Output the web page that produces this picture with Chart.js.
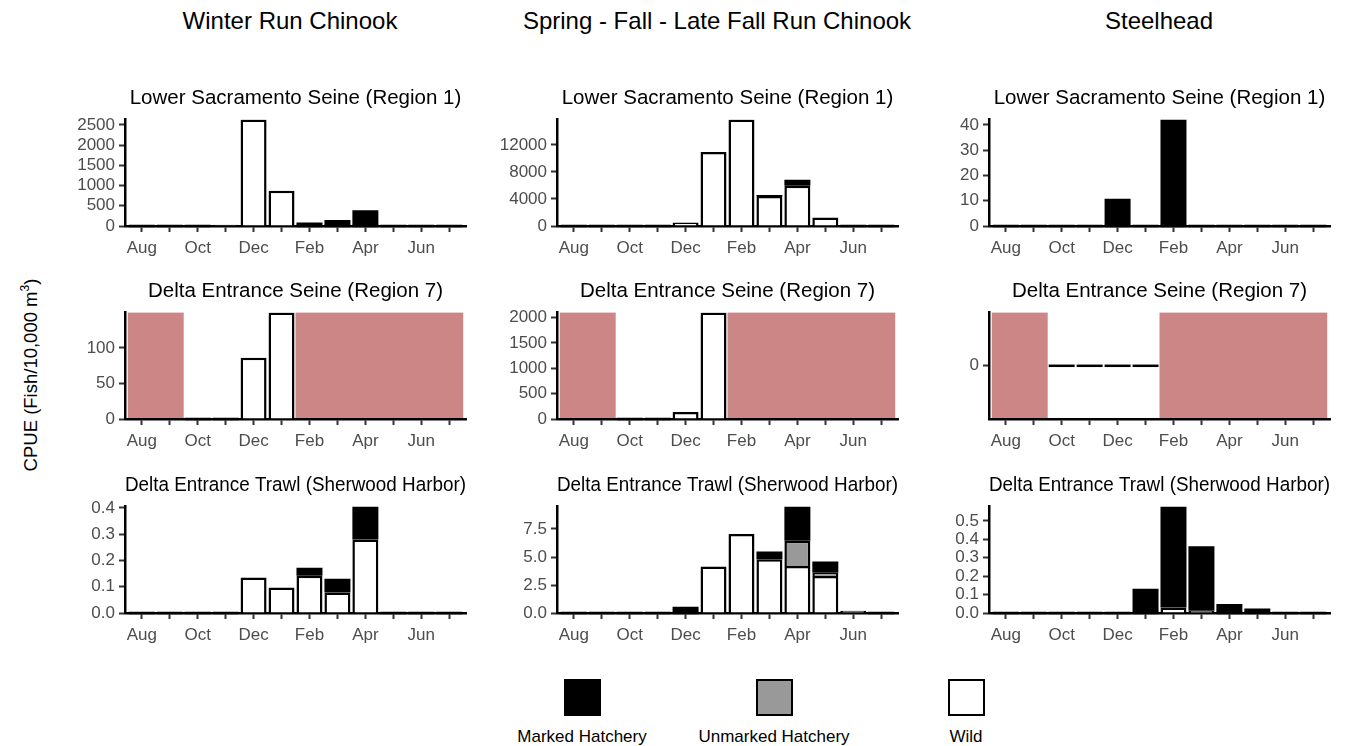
<!DOCTYPE html>
<html>
<head>
<meta charset="utf-8">
<title>CPUE by month</title>
<script src="https://cdn.jsdelivr.net/npm/chart.js@4.4.1/dist/chart.umd.min.js"></script>
<style>
  body { margin: 0; background: #fff; font-family: 'Liberation Sans', Arial, sans-serif; }
  #fig { position: relative; width: 1356px; height: 746px; overflow: hidden; }
  #fig canvas { position: absolute; }
  .run { position: absolute; top: 7px; font-size: 24px; line-height: 28px; white-space: nowrap; transform: translateX(-50%); }
  .ytitle { position: absolute; left: 28px; top: 375px; font-size: 18.5px; line-height: 22px; white-space: nowrap;
            transform: translate(-50%, -50%) rotate(-90deg); }
  .ytitle sup { font-size: 12px; }
  .key { position: absolute; top: 679px; width: 37px; height: 37px; box-sizing: border-box; border: 2.5px solid #000; }
  .keylab { position: absolute; top: 727px; font-size: 17px; line-height: 20px; white-space: nowrap; transform: translateX(-50%); }
</style>
</head>
<body>
<div id="fig">
  <div class="ytitle">CPUE (Fish/10,000 m<sup>3</sup>)</div>
</div>
<script>
// months run Aug..Jul, null = site not sampled that month
const months = ['Aug', 'Sep', 'Oct', 'Nov', 'Dec', 'Jan', 'Feb', 'Mar', 'Apr', 'May', 'Jun', 'Jul'];
const runs = ['Winter Run Chinook', 'Spring - Fall - Late Fall Run Chinook', 'Steelhead'];
const sites = ['Lower Sacramento Seine (Region 1)', 'Delta Entrance Seine (Region 7)', 'Delta Entrance Trawl (Sherwood Harbor)'];
const groups = ['Marked Hatchery', 'Unmarked Hatchery', 'Wild'];

// Winter run
const winterSacSeineWild       = [0, 0, 0, 30, 2630, 870, 0, 0, 0, 0, 0, 0];
const winterSacSeineUnmarked   = [0, 0, 0, 0, 0, 0, 0, 0, 0, 0, 0, 0];
const winterSacSeineMarked     = [0, 0, 0, 0, 0, 0, 85, 150, 390, 0, 0, 0];
const winterDeltaSeineWild     = [null, null, 0, 0, 86, 149.5, null, null, null, null, null, null];
const winterDeltaSeineUnmarked = [null, null, 0, 0, 0, 0, null, null, null, null, null, null];
const winterDeltaSeineMarked   = [null, null, 0, 0, 0, 0, null, null, null, null, null, null];
const winterTrawlWild          = [0, 0, 0, 0, 0.135, 0.097, 0.142, 0.078, 0.28, 0, 0, 0];
const winterTrawlUnmarked      = [0, 0, 0, 0, 0, 0, 0, 0, 0, 0, 0, 0];
const winterTrawlMarked        = [0, 0, 0, 0, 0, 0, 0.03, 0.052, 0.125, 0, 0, 0];

// Spring / fall / late fall run
const fallSacSeineWild         = [0, 0, 0, 0, 500, 10950, 15750, 4450, 5950, 1250, 0, 0];
const fallSacSeineUnmarked     = [0, 0, 0, 0, 0, 0, 0, 0, 0, 0, 0, 0];
const fallSacSeineMarked       = [0, 0, 0, 0, 0, 0, 0, 150, 900, 0, 0, 0];
const fallDeltaSeineWild       = [null, null, 0, 0, 138, 2100, null, null, null, null, null, null];
const fallDeltaSeineUnmarked   = [null, null, 0, 0, 0, 0, null, null, null, null, null, null];
const fallDeltaSeineMarked     = [null, null, 0, 0, 0, 0, null, null, null, null, null, null];
const fallTrawlWild            = [0, 0, 0, 0, 0, 4.15, 7.05, 4.8, 4.2, 3.3, 0.2, 0];
const fallTrawlUnmarked        = [0, 0, 0, 0, 0, 0, 0, 0, 2.25, 0.3, 0, 0];
const fallTrawlMarked          = [0, 0, 0, 0, 0.55, 0, 0, 0.7, 3.05, 1.0, 0, 0];

// Steelhead
const steelSacSeineWild        = [0, 0, 0, 0, 0, 0, 0, 0, 0, 0, 0, 0];
const steelSacSeineUnmarked    = [0, 0, 0, 0, 0, 0, 0, 0, 0, 0, 0, 0];
const steelSacSeineMarked      = [0, 0, 0, 0, 10.8, 0, 42.1, 0, 0, 0, 0, 0];
const steelDeltaSeineWild      = [null, null, 0, 0, 0, 0, null, null, null, null, null, null];
const steelDeltaSeineUnmarked  = [null, null, 0, 0, 0, 0, null, null, null, null, null, null];
const steelDeltaSeineMarked    = [null, null, 0, 0, 0, 0, null, null, null, null, null, null];
const steelTrawlWild           = [0, 0, 0, 0, 0, 0, 0.03, 0.012, 0, 0, 0, 0];
const steelTrawlUnmarked       = [0, 0, 0, 0, 0, 0, 0, 0, 0, 0, 0, 0];
const steelTrawlMarked         = [0, 0, 0, 0, 0, 0.132, 0.548, 0.35, 0.049, 0.025, 0, 0];

// y tick step for each panel, by row then column (null = only a 0 tick)
const tickSteps = [[500, 4000, 10], [50, 500, null], [0.1, 2.5, 0.1]];
const tickDecimals = [0, 0, 1];

// seine at the delta entrance is not run in these months (month index bins)
const deltaSeineOffSeason = [[-0.5, 1.5], [5.5, 11.5]];

const panels = [
  [[winterSacSeineWild, winterSacSeineUnmarked, winterSacSeineMarked],
   [fallSacSeineWild, fallSacSeineUnmarked, fallSacSeineMarked],
   [steelSacSeineWild, steelSacSeineUnmarked, steelSacSeineMarked]],
  [[winterDeltaSeineWild, winterDeltaSeineUnmarked, winterDeltaSeineMarked],
   [fallDeltaSeineWild, fallDeltaSeineUnmarked, fallDeltaSeineMarked],
   [steelDeltaSeineWild, steelDeltaSeineUnmarked, steelDeltaSeineMarked]],
  [[winterTrawlWild, winterTrawlUnmarked, winterTrawlMarked],
   [fallTrawlWild, fallTrawlUnmarked, fallTrawlMarked],
   [steelTrawlWild, steelTrawlUnmarked, steelTrawlMarked]]
];

const fills = { 'Wild': '#ffffff', 'Unmarked Hatchery': '#999999', 'Marked Hatchery': '#000000' };
// black bars need no outline; an inner border only leaves a seam
const outlines = { 'Wild': 2.5, 'Unmarked Hatchery': 2.5, 'Marked Hatchery': 0 };
const shadeColor = '#cd8686';
const tickGrey = '#4d4d4d';

// page layout
const colLeft = [125, 557, 989];
const rowTop = [119, 312, 506];
const plotW = 341, plotH = 107;
const rightPad = [20, 13, 11];
const axisW = 70, axisH = 34, titleH = 33;

Chart.defaults.font.family = "'Liberation Sans', Arial, sans-serif";

const fig = document.getElementById('fig');

// pink band over months the site was not sampled
function offSeasonShade(ranges) {
  return {
    id: 'offSeason',
    beforeDraw(chart) {
      if (!ranges) return;
      const { ctx, chartArea: a, scales: { x } } = chart;
      ctx.save();
      ctx.fillStyle = shadeColor;
      ranges.forEach(([from, to]) => {
        const x1 = x.getPixelForValue(from), x2 = x.getPixelForValue(to);
        ctx.fillRect(x1, a.top, x2 - x1, a.bottom - a.top);
      });
      ctx.restore();
    }
  };
}

// sampled months with no catch still get a flat outline, like ggplot does
const zeroOutline = {
  id: 'zeroOutline',
  afterDatasetsDraw(chart) {
    const meta = chart.getDatasetMeta(0);
    const pts = chart.data.datasets[0].data;
    const ctx = chart.ctx;
    ctx.save();
    ctx.strokeStyle = '#000';
    ctx.lineWidth = 2.5;
    meta.data.forEach((bar, i) => {
      if (pts[i].y !== 0) return;
      ctx.beginPath();
      ctx.moveTo(bar.x - bar.width / 2, bar.y);
      ctx.lineTo(bar.x + bar.width / 2, bar.y);
      ctx.stroke();
    });
    ctx.restore();
  }
};

function yTickValues(step, top) {
  if (!step) return [0];
  const out = [];
  for (let k = 0; k * step <= top + 1e-9; k++) out.push(+(k * step).toFixed(6));
  return out;
}

function makePanel(r, c) {
  const [wild, unmarked, marked] = panels[r][c];
  const totals = months.map((m, i) => (wild[i] || 0) + (unmarked[i] || 0) + (marked[i] || 0));
  const top = Math.max(...totals);
  const step = tickSteps[r][c];
  const decimals = tickDecimals[r];
  const yTicks = yTickValues(step, top);

  const canvas = document.createElement('canvas');
  canvas.width = axisW + plotW + rightPad[c];
  canvas.height = titleH + plotH + axisH;
  canvas.style.left = (colLeft[c] - axisW) + 'px';
  canvas.style.top = (rowTop[r] - titleH) + 'px';
  fig.appendChild(canvas);

  const series = [['Wild', wild], ['Unmarked Hatchery', unmarked], ['Marked Hatchery', marked]];

  new Chart(canvas, {
    type: 'bar',
    data: {
      datasets: series.map(([name, vals]) => ({
        label: name,
        data: vals.map((v, i) => ({ x: i, y: v })),
        backgroundColor: fills[name],
        borderColor: '#000',
        borderWidth: outlines[name],
        borderSkipped: 'start',
        barPercentage: 0.93,
        categoryPercentage: 1
      }))
    },
    options: {
      responsive: false,
      animation: false,
      events: [],
      layout: { padding: { left: 0, right: rightPad[c], top: 0, bottom: 0 } },
      plugins: {
        legend: { display: false },
        tooltip: { enabled: false },
        title: {
          display: true,
          text: sites[r],
          fullSize: false,
          color: '#000',
          font: { size: 20.5, weight: 'normal' },
          padding: { top: 0, bottom: 9 }
        }
      },
      scales: {
        x: {
          type: 'linear',
          stacked: true,
          offset: false,
          min: -0.6,
          max: 11.6,
          afterBuildTicks: s => { s.ticks = months.map((m, i) => ({ value: i })); },
          afterFit: s => { s.height = axisH; },
          ticks: {
            autoSkip: false,
            maxRotation: 0,
            padding: 6,
            color: tickGrey,
            font: { size: 17 },
            callback: v => (v % 2 === 0 ? months[v] : '')
          },
          grid: { drawOnChartArea: false, drawTicks: true, tickLength: 6, tickWidth: 2, tickColor: '#333', offset: false },
          border: { display: true, color: '#000', width: 2.5 }
        },
        y: {
          stacked: true,
          min: top > 0 ? 0 : -0.05,
          max: top > 0 ? top : 0.05,
          afterBuildTicks: s => { s.ticks = yTicks.map(v => ({ value: v })); },
          afterFit: s => { s.width = axisW; },
          ticks: {
            autoSkip: false,
            padding: 4,
            color: tickGrey,
            font: { size: 17 },
            callback: v => (decimals ? Number(v).toFixed(decimals) : String(v))
          },
          grid: { drawOnChartArea: false, drawTicks: true, tickLength: 6, tickWidth: 2, tickColor: '#333' },
          border: { display: true, color: '#000', width: 2.5 }
        }
      }
    },
    plugins: [offSeasonShade(r === 1 ? deltaSeineOffSeason : null), zeroOutline]
  });
}

// column headings
const runCentres = [290, 717, 1159];
runs.forEach((name, c) => {
  const d = document.createElement('div');
  d.className = 'run';
  d.style.left = runCentres[c] + 'px';
  d.textContent = name;
  fig.appendChild(d);
});

for (let r = 0; r < 3; r++) {
  for (let c = 0; c < 3; c++) makePanel(r, c);
}

// legend along the bottom
const keyCentres = [582, 774, 966];
groups.forEach((name, i) => {
  const box = document.createElement('div');
  box.className = 'key';
  box.style.left = (keyCentres[i] - 18.5) + 'px';
  box.style.background = fills[name];
  fig.appendChild(box);
  const lab = document.createElement('div');
  lab.className = 'keylab';
  lab.style.left = keyCentres[i] + 'px';
  lab.textContent = name;
  fig.appendChild(lab);
});
</script>
</body>
</html>
